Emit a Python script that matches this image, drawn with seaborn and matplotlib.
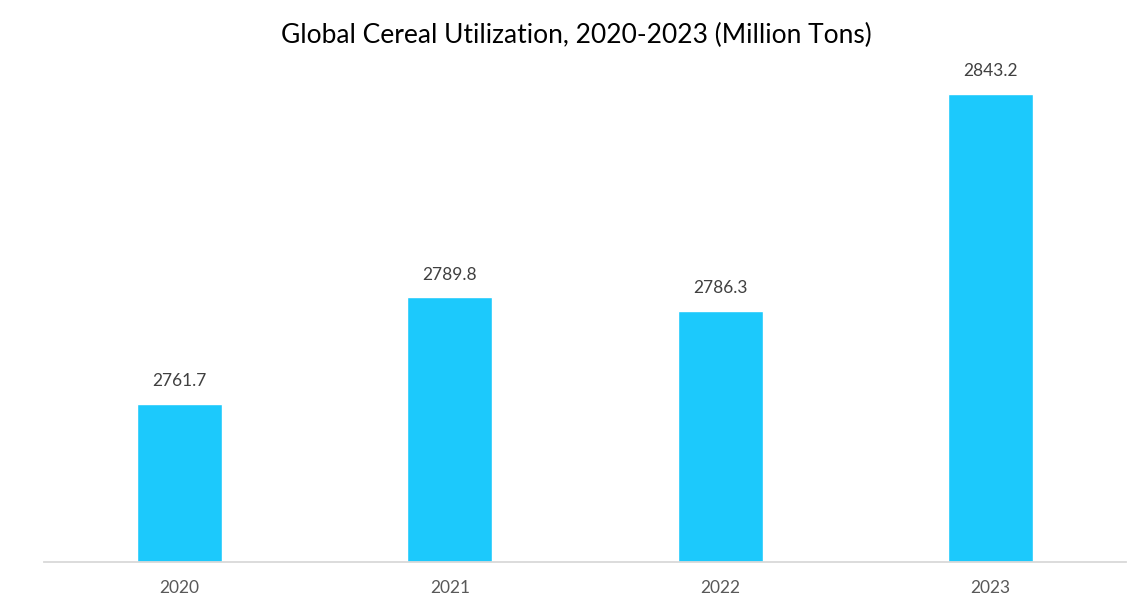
import matplotlib
matplotlib.use("Agg")
import matplotlib.pyplot as plt
import seaborn as sns
import pandas as pd

years = ["2020", "2021", "2022", "2023"]
values = [2761.7, 2789.8, 2786.3, 2843.2]
title = "Global Cereal Utilization, 2020-2023 (Million Tons)"

sns.set_style("white")
plt.rcParams['font.family'] = ['Lato', 'DejaVu Sans']

df = pd.DataFrame({"year": years, "value": values})

fig = plt.figure(figsize=(11.47, 6.10), dpi=100)
ax = fig.add_axes([44/1147, 48.5/610, 1082/1147, 533/610])
sns.barplot(data=df, x="year", y="value", color="#1CC9FC", saturation=1,
            width=0.314, ax=ax)
ax.set_ylim(2720.4, 2860.5)
ax.set_xlim(-0.5, 3.5)
ax.set_yticks([])
ax.set_xlabel("")
ax.set_ylabel("")
for s in ["top", "right", "left"]:
    ax.spines[s].set_visible(False)
ax.spines["bottom"].set_color("#D9D9D9")
ax.spines["bottom"].set_linewidth(1.3)
ax.tick_params(axis="x", length=0, pad=13, labelsize=12.5, labelcolor="#595959")
for i, v in enumerate(values):
    ax.annotate(f"{v:.1f}", xy=(i, v), xytext=(0, 16.5), textcoords="offset points",
                ha="center", va="center", fontsize=12.5, color="#404040")
fig.text(576/1147, 1 - 35/610, title, ha="center", va="center", fontsize=19, color="#000000")
fig.savefig("out.png", dpi=100, facecolor="white")
